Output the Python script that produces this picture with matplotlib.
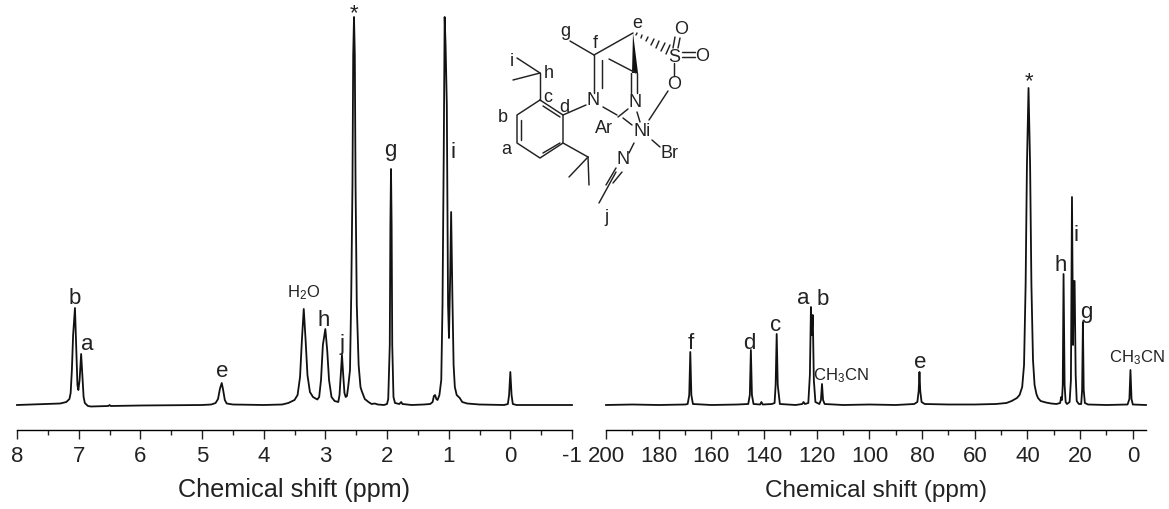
import matplotlib
matplotlib.use('Agg')
import matplotlib.pyplot as plt
from matplotlib.patches import Polygon

plt.rcParams['font.family'] = ['Liberation Sans', 'DejaVu Sans']
plt.rcParams['mathtext.default'] = 'regular'

# 1H spectrum (height = px above baseline)
h_ppm = [8.0, 7.5, 7.3, 7.2, 7.15, 7.13, 7.11, 7.09, 7.06, 7.04, 7.02, 7.005, 6.985, 6.96, 6.94, 6.92, 6.90,
         6.85, 6.8, 6.52, 6.5, 6.48, 6.0, 5.0, 4.85, 4.78, 4.74, 4.71, 4.68, 4.66, 4.63, 4.6, 4.5, 4.0, 3.7,
         3.6, 3.5, 3.45, 3.41, 3.38, 3.35, 3.32, 3.29, 3.25, 3.2, 3.13, 3.1, 3.07, 3.04, 3.0, 2.97, 2.94, 2.9,
         2.85, 2.79, 2.77, 2.75, 2.73, 2.71, 2.69, 2.67, 2.65, 2.63, 2.60, 2.58, 2.56, 2.548, 2.535, 2.522, 2.51,
         2.49, 2.46, 2.43, 2.41, 2.36, 2.34, 2.3, 2.25, 2.2, 2.15, 2.05, 2.0, 1.98, 1.955, 1.945, 1.935, 1.925,
         1.915, 1.895, 1.87, 1.8, 1.77, 1.75, 1.6, 1.4, 1.3, 1.26, 1.24, 1.22, 1.20, 1.18, 1.15, 1.12, 1.10,
         1.08, 1.065, 1.05, 1.03, 1.01, 0.995, 0.975, 0.96, 0.94, 0.92, 0.9, 0.87, 0.82, 0.78, 0.7, 0.5, 0.1,
         0.04, 0.02, 0.0, -0.02, -0.04, -0.1, -1.0]
h_int = [0, 1, 1.5, 3, 6, 12, 35, 70, 97, 60, 20, 15, 25, 51, 30, 8, 2,
         -1, -1.5, -1, 0, -1, -0.5, 0, 0.5, 2, 6, 16, 22, 16, 5, 1.5, 0.5, 0, 0.5,
         2, 5, 10, 28, 65, 96, 65, 30, 13, 8, 5.5, 8, 25, 60, 76, 55, 25, 8,
         4, 3, 10, 30, 50, 30, 12, 8, 9, 18, 35, 110, 220, 350, 388, 350, 220,
         100, 40, 18, 14, 6, 5, 3, 1, 1.5, 0.5, 0, 1, 6, 60, 180, 236, 180,
         60, 8, 2, 1, 3, 1, 0, 0.5, 1, 3, 9, 10, 6, 5, 10, 25, 100,
         250, 388, 360, 300, 100, 67, 130, 193, 110, 40, 18, 10, 7, 3, 1.5, 0.5, 0,
         1, 10, 33, 10, 1, 0, 0]

# 13C spectrum, same idea
c_ppm = [200, 190, 180, 170, 169, 168.4, 168, 167.6, 167, 160, 150, 146, 145.4, 145, 144.6, 144, 141.5, 141, 140.5,
         137, 136, 135.6, 135.2, 134.8, 134, 128, 125.5, 125, 124.5, 123.2, 122.6, 122.2, 121.9, 121.5, 121.1, 120.5,
         119, 118.4, 118, 117.6, 117, 110, 100, 90, 83, 81.8, 81.3, 81, 80.7, 80.2, 79, 70, 60, 52, 48, 46, 44, 43,
         42, 41.3, 40.7, 40.2, 39.6, 39, 38.5, 37.9, 37.3, 36.6, 36, 35, 33, 31, 29, 27.6, 27.2, 26.9, 26.6, 26.3,
         25.9, 25.5, 25, 24, 23.5, 23.1, 22.7, 22.45, 22.1, 21.7, 21.3, 20.5, 19.6, 19.25, 18.95, 18.65, 18.2, 17,
         10, 2, 1.3, 0.9, 0.5, 0, -5]
c_int = [0, 0.5, 0, 0.5, 1, 10, 53, 10, 1, 0, 0.5, 1, 10, 55, 10, 1, 0.5, 3, 0.5,
         1, 2, 20, 71, 20, 1, 0, 1, 3, 1, 2, 30, 98, 70, 90, 25, 3,
         1, 5, 21, 5, 1, 0, 0.5, 0, 1, 3, 14, 33, 14, 3, 1, 0.5, 0.5, 1, 2, 4, 7, 10,
         18, 40, 120, 240, 317, 240, 120, 45, 20, 11, 7, 4, 2.5, 1.5, 1, 2, 8, 5, 20, 131,
         20, 3, 1, 3, 25, 208, 60, 124, 124, 30, 4, 1, 1, 15, 83, 15, 2, 0.5,
         0, 0.5, 6, 35, 6, 0.5, 0]

# (ppm, height above baseline, text)
h_labels = [(7.06, 101, 'b'), (6.86, 55, 'a'), (4.68, 28, 'e'), (3.35, 108, r'$H_2O$'), (3.02, 79, 'h'),
            (2.73, 55, 'j'), (2.53, 386, '*'), (1.95, 249, 'g'), (0.93, 247, 'i')]
c_labels = [(168, 56, 'f'), (145.7, 56, 'd'), (135.5, 74, 'c'), (125.2, 101, 'a'), (117.6, 100, 'b'),
            (110.8, 25, r'$CH_3CN$'), (80.8, 37, 'e'), (39.5, 318, '*'), (27.3, 134, 'h'), (21.6, 164, 'i'),
            (17.5, 87, 'g'), (-1.5, 43, r'$CH_3CN$')]

# molecule sketch, px coordinates
bonds = [
    [(540, 100), (517, 115), (517, 143), (540, 158), (563, 143), (563, 115), (540, 100)],
    [(521, 120), (521, 140)], [(543, 153), (560, 143)], [(543, 106), (560, 117)],
    [(540, 100), (540, 73)], [(540, 73), (517, 58)], [(540, 73), (513, 80)],
    [(563, 143), (588, 157)], [(588, 157), (569, 177)], [(588, 157), (589, 185)],
    [(563, 115), (586, 105)], [(594, 93), (594, 55)], [(602, 88), (602, 60)],
    [(594, 55), (570, 41)], [(594, 55), (633, 33)], [(636, 73), (609, 59)],
    [(631, 73), (631, 93)], [(637, 73), (637, 93)], [(603, 107), (617, 115)],
    [(623, 118), (632, 125)], [(628, 109), (618, 117)], [(637, 112), (640, 122)],
    [(668, 91), (649, 120)], [(675, 37), (673, 48)], [(680, 38), (678, 48)],
    [(682, 52), (695, 52)], [(682, 57), (695, 57)], [(674, 63), (674, 76)],
    [(652, 140), (660, 147)], [(634, 143), (629, 153)], [(616, 168), (606, 185)],
    [(622, 172), (613, 183)], [(616, 172), (599, 203)],
]
wedge_pts = [(633, 33), (632, 73), (638, 73)]
hash_lines = [[(636, 35), (637, 33)], [(641, 38), (642, 35)], [(646, 41), (648, 37)], [(651, 45), (654, 39)],
              [(656, 48), (659, 41)], [(661, 51), (665, 43)], [(666, 54), (670, 45)]]
atoms = [(593, 100, 'N'), (635, 102, 'N'), (604, 128, 'Ar'), (642, 132, 'Ni'), (669, 154, 'Br'), (623, 160, 'N'),
         (674, 57, 'S'), (681, 29, 'O'), (702, 56, 'O'), (674, 84, 'O')]
site_labels = [(637, 23, 'e'), (565, 31, 'g'), (595, 43, 'f'), (512, 61, 'i'), (549, 73, 'h'), (548, 97, 'c'),
               (564, 107, 'd'), (503, 117, 'b'), (506, 150, 'a'), (606, 217, 'j')]

W, H = 1169, 509
fig = plt.figure(figsize=(W / 100, H / 100), dpi=100)


def spectrum_axes(x0, x1, xlim, major, minor, ppm, inten, labels, ticklabels, xlabel_size):
    ax = fig.add_axes([x0 / W, (H - 430) / H, (x1 - x0) / W, 430 / H])
    ax.plot(ppm, inten, color='#111111', lw=1.3, solid_joinstyle='round', clip_on=False)
    ax.set_xlim(*xlim)
    ax.set_ylim(-25, 405)
    ax.set_yticks([])
    for s in ['top', 'left', 'right']:
        ax.spines[s].set_visible(False)
    ax.spines['bottom'].set_linewidth(1.0)
    ax.patch.set_alpha(0)
    ax.set_xticks(major)
    ax.set_xticklabels(ticklabels)
    ax.set_xticks(minor, minor=True)
    ax.tick_params(axis='x', which='major', length=6.5, width=1.0, labelsize=16, pad=5, color='#222222',
                   labelcolor='#222222')
    ax.tick_params(axis='x', which='minor', length=3.5, width=1.0, color='#222222')
    ax.set_xlabel('Chemical shift (ppm)', fontsize=xlabel_size, labelpad=8, color='#222222')
    for x, y, s in labels:
        size = 12 if s.startswith('$') else 16
        ax.text(x, y, s, ha='center', va='baseline', fontsize=size, color='#222222')
    return ax


h_major = [8, 7, 6, 5, 4, 3, 2, 1, 0, -1]
h_minor = [7.5, 6.5, 5.5, 4.5, 3.5, 2.5, 1.5, 0.5, -0.5]
c_major = [200, 180, 160, 140, 120, 100, 80, 60, 40, 20, 0]
c_minor = [190, 170, 150, 130, 110, 90, 70, 50, 30, 10]

spectrum_axes(17, 572, (8, -1), h_major, h_minor, h_ppm, h_int, h_labels, [str(v) for v in h_major], 18.2)
ax_c = spectrum_axes(606, 1146, (200, -5), c_major, c_minor, c_ppm, c_int, c_labels, [str(v) for v in c_major], 17.5)
ax_c.xaxis.set_label_coords((876 - 606) / 540, -0.0)
ax_c.xaxis.label.set_verticalalignment('center')
ax_c.xaxis.label.set_y(-(491 - 430) / 430)

# overlay for the structure, in pixels
ov = fig.add_axes([0, 0, 1, 1])
ov.set_xlim(0, W)
ov.set_ylim(H, 0)
ov.axis('off')
ov.patch.set_alpha(0)
for b in bonds + hash_lines:
    ov.plot([p[0] for p in b], [p[1] for p in b], color='#222222', lw=1.05, solid_capstyle='round')
ov.add_patch(Polygon(wedge_pts, closed=True, color='#111111', lw=0))
for x, y, s in atoms:
    ov.text(x, y, s, ha='center', va='center', fontsize=13, color='#222222')
for x, y, s in site_labels:
    ov.text(x, y, s, ha='center', va='center', fontsize=13, color='#222222')

fig.savefig('out.png', dpi=100)
